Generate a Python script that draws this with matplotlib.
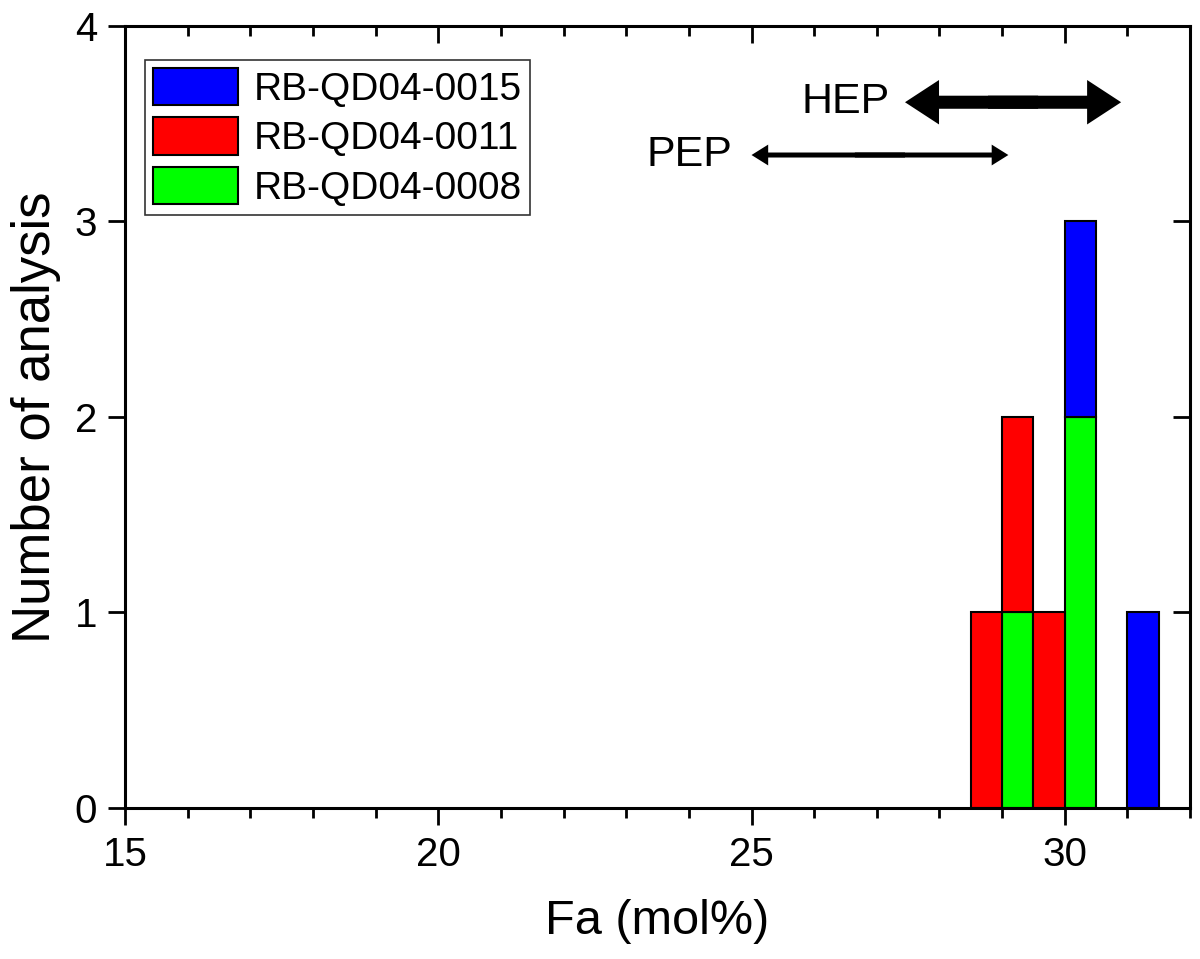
import matplotlib.pyplot as plt
from matplotlib.patches import FancyArrowPatch, Patch

plt.rcParams['font.family'] = ['Liberation Sans', 'DejaVu Sans']

# histogram bins (left edges, width 0.5) and counts per sample
bin_left = [28.5, 29.0, 29.5, 30.0, 31.0]
bin_width = 0.5
cnt_0008 = [0, 1, 0, 2, 0]
cnt_0011 = [1, 1, 1, 0, 0]
cnt_0015 = [0, 0, 0, 1, 1]
samples = ['RB-QD04-0015', 'RB-QD04-0011', 'RB-QD04-0008']
colors = {'RB-QD04-0015': '#0000ff', 'RB-QD04-0011': '#ff0000', 'RB-QD04-0008': '#00ff00'}

# range arrows (x start, x end, y)
hep_range = (27.45, 30.9, 3.61)
pep_range = (25.0, 29.1, 3.34)

fig = plt.figure(figsize=(12, 9.59), dpi=100)
ax = fig.add_axes([0.1042, 0.1575, 0.8875, 0.8154])

def stacked(vals, bottom, color):
    # draw only non-empty bins
    for x, v, b0 in zip(bin_left, vals, bottom):
        if v > 0:
            ax.bar(x, v, bottom=b0, width=bin_width, align='edge', color=color,
                   edgecolor='black', linewidth=1.5)

zeros = [0] * len(bin_left)
stacked(cnt_0008, zeros, colors['RB-QD04-0008'])
stacked(cnt_0011, cnt_0008, colors['RB-QD04-0011'])
stacked(cnt_0015, [a + b for a, b in zip(cnt_0008, cnt_0011)], colors['RB-QD04-0015'])

ax.set_xlim(15, 32)
ax.set_ylim(0, 4)
ax.set_xticks([15, 20, 25, 30])
ax.set_xticks(range(15, 33), minor=True)
ax.set_yticks([0, 1, 2, 3, 4])
ax.tick_params(axis='both', which='major', direction='out', length=12, width=2, labelsize=29, pad=8)
ax.tick_params(axis='both', which='minor', direction='out', length=7, width=2)
for s in ax.spines.values():
    s.set_linewidth(2.2)

# top and right axes with inward ticks
axt = ax.twiny()
axt.set_xlim(15, 32)
axt.set_xticks([15, 20, 25, 30])
axt.set_xticks(range(15, 33), minor=True)
axt.tick_params(axis='x', which='major', direction='in', length=12, width=2, labeltop=False)
axt.tick_params(axis='x', which='minor', direction='in', length=7, width=2)
axr = ax.twinx()
axr.set_ylim(0, 4)
axr.set_yticks([0, 1, 2, 3, 4])
axr.tick_params(axis='y', direction='in', length=12, width=2, labelright=False)

ax.set_xlabel('Fa (mol%)', fontsize=35, labelpad=18)
ax.set_ylabel('Number of analysis', fontsize=38, labelpad=10)

handles = [Patch(facecolor=colors[s], edgecolor='black', linewidth=1.5) for s in samples]
leg = axr.legend(handles, samples, loc='upper left', bbox_to_anchor=(0.0188, 0.9565),
                 fontsize=28, frameon=True, fancybox=False, edgecolor='black',
                 handlelength=2.2, handleheight=1.1, labelspacing=0.25,
                 handletextpad=0.4, borderpad=0.2, borderaxespad=0)
leg.get_frame().set_linewidth(1.2)

def double_arrow(x0, x1, y, hw, hl, tw):
    # two single-headed arrows that overlap in the middle
    xm = (x0 + x1) / 2
    style = 'simple,head_width=%g,head_length=%g,tail_width=%g' % (hw, hl, tw)
    for xs, xe in ((xm + 0.4, x0), (xm - 0.4, x1)):
        ax.add_patch(FancyArrowPatch((xs, y), (xe, y), arrowstyle=style, mutation_scale=10,
                                     lw=0, color='black', shrinkA=0, shrinkB=0))

# HEP / PEP ranges
x0, x1, y = hep_range
double_arrow(x0, x1, y, 3.2, 2.45, 0.94)
ax.text(x0 - 0.25, y, 'HEP', fontsize=31, ha='right', va='center')
x0, x1, y = pep_range
double_arrow(x0, x1, y, 1.5, 1.2, 0.36)
ax.text(x0 - 0.3, y, 'PEP', fontsize=31, ha='right', va='center')

fig.savefig('out.png', dpi=100)
